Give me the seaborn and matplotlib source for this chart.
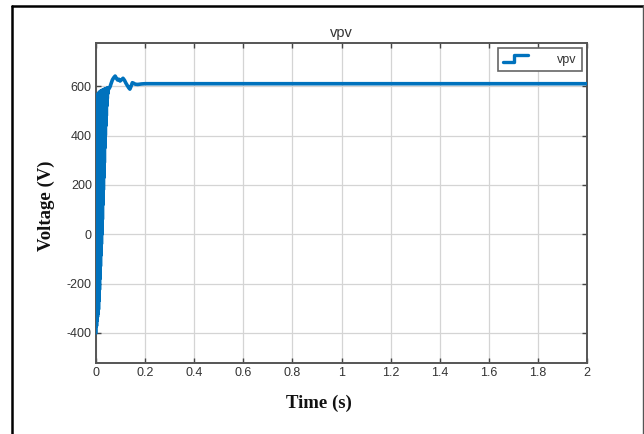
import numpy as np
import pandas as pd
import matplotlib
matplotlib.use("Agg")
import matplotlib.pyplot as plt
import seaborn as sns
from matplotlib.lines import Line2D
from matplotlib.legend_handler import HandlerBase

# ---- data ----
# oscillating rise: lower swings and upper swings
t_low = [0.000, 0.002, 0.004, 0.006, 0.008, 0.010, 0.012, 0.014, 0.016, 0.018,
         0.020, 0.022, 0.024, 0.026, 0.028, 0.030, 0.032, 0.034, 0.036, 0.038,
         0.040, 0.042, 0.044, 0.046, 0.048]
v_low = [-400, -372, -350, -335, -322, -305, -270, -225, -180, -130,
         -85, -40, 0, 60, 120, 180, 230, 290, 350, 400,
         440, 480, 520, 550, 570]
t_high = [0.001, 0.003, 0.005, 0.007, 0.009, 0.011, 0.013, 0.015, 0.017, 0.019,
          0.021, 0.023, 0.025, 0.027, 0.029, 0.031, 0.033, 0.035, 0.037, 0.039,
          0.041, 0.043, 0.045, 0.047]
v_high = [548, 556, 562, 566, 570, 572, 574, 576, 578, 580,
          580, 582, 582, 584, 584, 586, 586, 588, 588, 588,
          590, 590, 592, 592]
# settling and steady state
t_settle = [0.050, 0.053, 0.057, 0.062, 0.067, 0.072, 0.078, 0.083, 0.088, 0.093,
            0.098, 0.104, 0.110, 0.116, 0.122, 0.128, 0.133, 0.138, 0.143, 0.148,
            0.153, 0.160, 0.170, 0.185, 0.200, 0.300, 0.500, 1.000, 1.500, 2.000]
v_settle = [586, 590, 597, 612, 626, 634, 641, 632, 625, 628,
            621, 626, 632, 624, 612, 602, 594, 588, 600, 614,
            612, 608, 607, 609, 610, 610, 610, 610, 610, 610]

x_ticks = [0, 0.2, 0.4, 0.6, 0.8, 1, 1.2, 1.4, 1.6, 1.8, 2]
x_ticklabels = ["0", "0.2", "0.4", "0.6", "0.8", "1", "1.2", "1.4", "1.6", "1.8", "2"]
y_ticks = [-400, -200, 0, 200, 400, 600]
y_ticklabels = ["-400", "-200", "0", "200", "400", "600"]

rise = pd.DataFrame({"t": t_low + t_high, "v": v_low + v_high}).sort_values("t")
settle = pd.DataFrame({"t": t_settle, "v": v_settle})
df = pd.concat([rise, settle], ignore_index=True)
df["series"] = "vpv"

sns.set_theme(style="white")
plt.rcParams["font.family"] = ["Liberation Sans", "DejaVu Sans"]

LINE_C = "#0072BD"
AX_C = "#555555"

fig = plt.figure(figsize=(6.44, 4.34), dpi=100)
ax = fig.add_axes([96 / 644, 1 - 363 / 434, (587 - 96) / 644, (363 - 43) / 434])

# the dense oscillation band (polygon through upper swings, back along lower swings)
band_t = t_high + t_low[::-1]
band_v = v_high + v_low[::-1]
ax.fill(band_t, band_v, color=LINE_C, linewidth=0, zorder=2)

sns.lineplot(data=df, x="t", y="v", sort=False, estimator=None, ax=ax,
             color=LINE_C, linewidth=2.6, legend=False, zorder=3)

ax.set_xlim(0, 2)
ax.set_ylim(-522, 775)
ax.set_xticks(x_ticks)
ax.set_xticklabels(x_ticklabels)
ax.set_yticks(y_ticks)
ax.set_yticklabels(y_ticklabels)
ax.grid(True, color="#d4d4d4", linewidth=0.9)
ax.set_axisbelow(True)
for s in ax.spines.values():
    s.set_color(AX_C)
    s.set_linewidth(1.4)
    s.set_visible(True)
ax.tick_params(direction="in", length=3.5, width=1, color="#444444",
               top=True, right=True, bottom=True, left=True,
               labelsize=9, labelcolor="#333333", pad=3)
ax.set_xlabel("")
ax.set_ylabel("")
ax.set_title("vpv", fontsize=10.5, color="#333333", pad=4)


class StepHandler(HandlerBase):
    def create_artists(self, legend, orig_handle, xdescent, ydescent,
                       width, height, fontsize, trans):
        xs = np.array([0.0, 0.45, 0.45, 1.0]) * width - xdescent
        ys = np.array([0.1, 0.1, 0.9, 0.9]) * height - ydescent
        ln = Line2D(xs, ys, color=LINE_C, linewidth=2.4, transform=trans)
        return [ln]


handle = Line2D([], [], color=LINE_C)
leg = ax.legend([handle], ["vpv"], handler_map={Line2D: StepHandler()},
                loc="upper right", bbox_to_anchor=(0.990, 0.984),
                borderaxespad=0.0,
                fontsize=9, handlelength=2.0, handletextpad=2.3,
                borderpad=0.45, fancybox=False, framealpha=1)
leg.get_frame().set_edgecolor("#666666")
leg.get_frame().set_linewidth(1.2)
for txt in leg.get_texts():
    txt.set_color("#333333")

fig.text(319 / 644, 1 - 403 / 434, "Time (s)", ha="center", va="center",
         fontsize=13.5, fontweight="bold", family=["Liberation Serif", "DejaVu Serif"],
         color="#111111")
fig.text(46 / 644, 1 - 206 / 434, "Voltage (V)", ha="center", va="center",
         rotation=90, fontsize=13.5, fontweight="bold",
         family=["Liberation Serif", "DejaVu Serif"], color="#111111")

# outer frame of the original figure
fig.add_artist(Line2D([11.5 / 644, 11.5 / 644], [-0.05, 1 - 5.5 / 434],
                      transform=fig.transFigure, color="black", linewidth=1.8))
fig.add_artist(Line2D([11.5 / 644, 642.5 / 644], [1 - 5.5 / 434, 1 - 5.5 / 434],
                      transform=fig.transFigure, color="black", linewidth=1.8))
fig.add_artist(Line2D([642.5 / 644, 642.5 / 644], [-0.05, 1 - 5.5 / 434],
                      transform=fig.transFigure, color="#555555", linewidth=1.0))

fig.savefig("out.png", dpi=100, facecolor="white")
